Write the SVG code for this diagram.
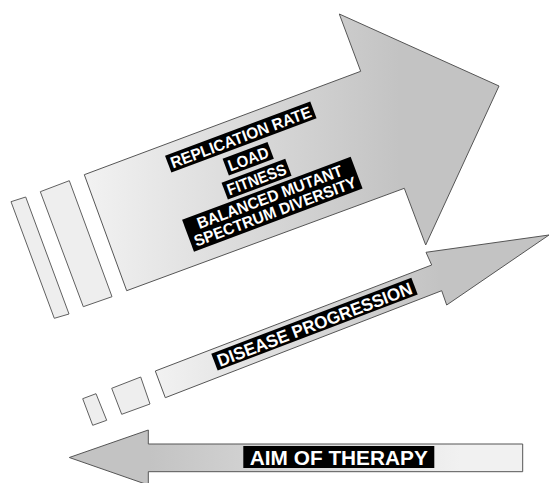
<svg xmlns="http://www.w3.org/2000/svg" width="550" height="483" viewBox="0 0 550 483">
  <defs>
    <linearGradient id="gBig" gradientUnits="userSpaceOnUse" x1="90" y1="0" x2="400" y2="0">
      <stop offset="0" stop-color="#f1f1f1"/>
      <stop offset="1" stop-color="#c3c3c3"/>
    </linearGradient>
    <linearGradient id="gSmall" gradientUnits="userSpaceOnUse" x1="160" y1="0" x2="440" y2="0">
      <stop offset="0" stop-color="#f1f1f1"/>
      <stop offset="1" stop-color="#c3c3c3"/>
    </linearGradient>
    <linearGradient id="gLeft" gradientUnits="userSpaceOnUse" x1="150" y1="0" x2="460" y2="0">
      <stop offset="0" stop-color="#c3c3c3"/>
      <stop offset="1" stop-color="#f1f1f1"/>
    </linearGradient>
  </defs>
  <style>
    .shape { stroke: #555555; stroke-width: 1; stroke-linejoin: miter; }
    .stripe { fill: #eeeeee; stroke: #606060; stroke-width: 1; }
    .box { fill: #000000; }
    .lbl { fill: #ffffff; font-family: "Liberation Sans", Arial, sans-serif; font-weight: bold; text-anchor: middle; }
  </style>

  <g id="big-arrow">
    <polygon class="stripe" points="11,201.7 25.7,197 69,314 54.3,318.3"/>
    <polygon class="stripe" points="40.3,191.7 69.3,180.7 112,296.7 83.3,306.7"/>
    <polygon class="shape" fill="url(#gBig)" points="84.3,174.7 360.7,71.3 339.3,14 499,86 425.7,245 404.3,188.3 126.7,290.7"/>
  </g>

  <g id="disease-arrow">
    <polygon class="stripe" points="82.7,398.7 96,393.7 106.7,420.3 92.7,425.3"/>
    <polygon class="stripe" points="111.7,388.3 140.7,377 150,404 121.7,414.3"/>
    <polygon class="shape" fill="url(#gSmall)" points="155.3,371 431.7,265 426,252.3 549,235 446.7,305 441.7,290.7 165.3,397.7"/>
  </g>

  <g id="therapy-arrow">
    <polygon class="shape" fill="url(#gLeft)" points="69.3,457.5 148.3,430 148.3,444 522.7,444 522.7,471.7 148.3,471.7 148.3,485"/>
  </g>

  <g id="big-labels" transform="translate(240.8,137) rotate(-20.5)">
    <g id="label-replication">
      <rect class="box" x="-77.5" y="-9" width="155" height="18"/>
      <text class="lbl" x="0" y="5.8" font-size="16" textLength="149" lengthAdjust="spacingAndGlyphs">REPLICATION RATE</text>
    </g>
    <g id="label-load">
      <rect class="box" x="-24.7" y="14" width="48" height="18"/>
      <text class="lbl" x="-0.7" y="28.8" font-size="16" textLength="42" lengthAdjust="spacingAndGlyphs">LOAD</text>
    </g>
    <g id="label-fitness">
      <rect class="box" x="-34" y="36" width="68" height="18"/>
      <text class="lbl" x="0" y="50.8" font-size="16" textLength="62" lengthAdjust="spacingAndGlyphs">FITNESS</text>
    </g>
    <g id="label-balanced">
      <rect class="box" x="-84" y="57" width="180" height="34"/>
      <text class="lbl" x="6" y="71.8" font-size="16" textLength="154" lengthAdjust="spacingAndGlyphs">BALANCED MUTANT</text>
      <text class="lbl" x="6" y="87.4" font-size="16" textLength="172" lengthAdjust="spacingAndGlyphs">SPECTRUM DIVERSITY</text>
    </g>
  </g>

  <g id="label-disease" transform="translate(314.5,324.2) rotate(-20.8)">
    <rect class="box" x="-107" y="-9" width="214" height="18"/>
    <text class="lbl" x="0" y="6.4" font-size="17.5" textLength="207" lengthAdjust="spacingAndGlyphs">DISEASE PROGRESSION</text>
  </g>

  <g id="label-aim">
    <rect class="box" x="243.3" y="446" width="191" height="22"/>
    <text class="lbl" x="338.8" y="465" font-size="21" textLength="178" lengthAdjust="spacingAndGlyphs">AIM OF THERAPY</text>
  </g>
</svg>
